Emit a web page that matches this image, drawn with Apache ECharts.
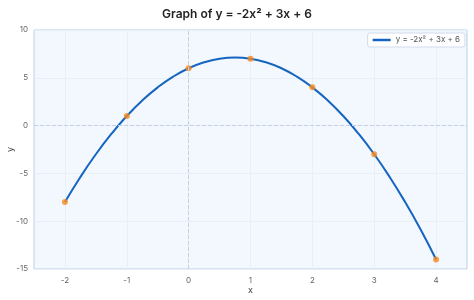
<!DOCTYPE html>
<html><head><meta charset="utf-8">
<script src="https://cdn.jsdelivr.net/npm/echarts@6/dist/echarts.min.js"></script>
<style>html,body{margin:0;padding:0;background:#fff}#c{width:474px;height:300px}</style>
</head><body><div id="c"></div>
<script>
const titleText = 'Graph of y = -2x\u00b2 + 3x + 6';
const seriesName = 'y = -2x\u00b2 + 3x + 6';
// curve values
const curveX = [-2,-1.75,-1.5,-1.25,-1,-0.75,-0.5,-0.25,0,0.25,0.5,0.75,1,1.25,1.5,1.75,2,2.25,2.5,2.75,3,3.25,3.5,3.75,4];
const curveY = [-8,-5.375,-3,-0.875,1,2.625,4,5.125,6,6.625,7,7.125,7,6.625,6,5.125,4,2.625,1,-0.875,-3,-5.375,-8,-10.875,-14];
// marked points
const pointX = [-2,-1,0,1,2,3,4];
const pointY = [-8,1,6,7,4,-3,-14];
// x tick labels
const xTicks = [-2,-1,0,1,2,3,4];

const font = 'Inter, "Noto Sans", sans-serif';
const chart = echarts.init(document.getElementById('c'), null, {renderer:'canvas'});
chart.setOption({
  animation:false,
  backgroundColor:'#ffffff',
  title:{text:titleText,left:'center',top:3,textStyle:{fontFamily:font,fontSize:12,fontWeight:600,color:'#222'}},
  legend:{data:[seriesName],icon:'rect',right:9,top:33,orient:'vertical',backgroundColor:'#ffffff',borderColor:'#cfdcec',borderWidth:1,borderRadius:2,padding:[3,5,3,5],
    itemWidth:18,itemHeight:2.5,itemGap:4,textStyle:{fontFamily:font,fontSize:8,color:'#555'}},
  grid:{left:34,right:7,top:30,bottom:31,outerBoundsMode:'none',containLabel:false,show:true,backgroundColor:'#f3f8fe',borderColor:'#b9cfe6',borderWidth:1},
  xAxis:{type:'value',min:-2.5,max:4.5,interval:0.5,name:'x',nameLocation:'middle',nameGap:17,nameMoveOverlap:false,
    nameTextStyle:{fontFamily:font,fontSize:9,color:'#444'},
    axisLine:{show:false},axisTick:{show:false,customValues:xTicks},
    axisLabel:{customValues:xTicks,fontFamily:font,fontSize:8,color:'#666',margin:8},
    splitLine:{show:true,lineStyle:{color:'#e8eff8',width:1}}},
  yAxis:{type:'value',min:-15,max:10,interval:5,name:'y',nameLocation:'middle',nameGap:19,nameMoveOverlap:false,
    nameTextStyle:{fontFamily:font,fontSize:9,color:'#444'},
    axisLine:{show:false},axisTick:{show:false},
    axisLabel:{fontFamily:font,fontSize:8,color:'#666',margin:6},
    splitLine:{show:true,lineStyle:{color:'#e8eff8',width:1}}},
  series:[
    {name:seriesName,type:'line',data:curveX.map((x,i)=>[x,curveY[i]]),smooth:true,symbol:'none',
      lineStyle:{color:'#1565c0',width:2},itemStyle:{color:'#1565c0'},z:3,
      markLine:{silent:true,symbol:'none',label:{show:false},lineStyle:{color:'#c3d0e6',type:'dashed',width:1},
        data:[{xAxis:0},{yAxis:0}]}},
    {name:'points',type:'scatter',data:pointX.map((x,i)=>[x,pointY[i]]),symbolSize:6,
      itemStyle:{color:'#f5891f'},z:4}
  ]
});
</script></body></html>
